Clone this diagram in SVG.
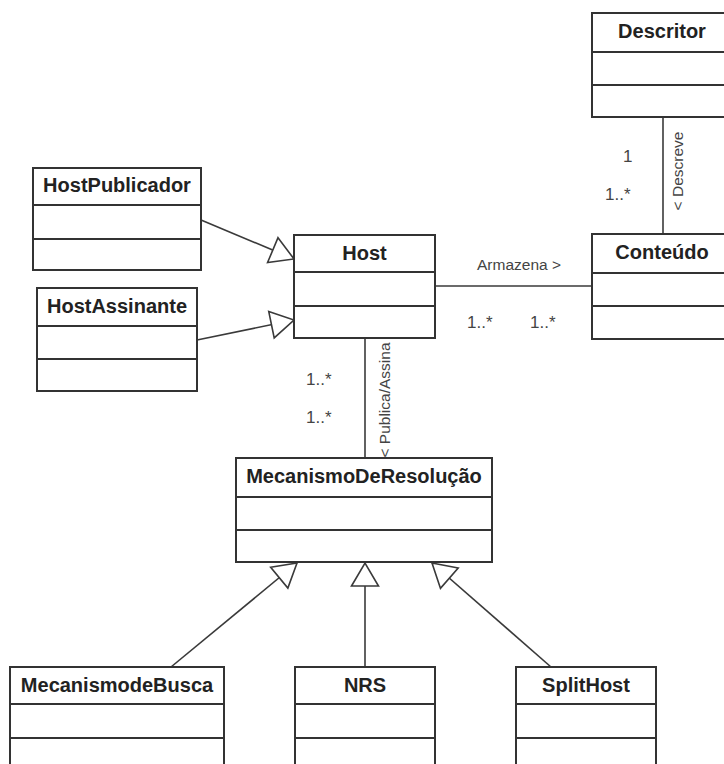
<svg xmlns="http://www.w3.org/2000/svg" width="724" height="764" viewBox="0 0 724 764">
  <style>
    .box { fill: #ffffff; stroke: #333333; stroke-width: 2; }
    .sep { stroke: #333333; stroke-width: 2; }
    .title { font-family: "Liberation Sans", Arial, sans-serif; font-weight: bold; font-size: 20px; fill: #222222; text-anchor: middle; }
    .conn { fill: none; stroke: #3a3a3a; stroke-width: 1.6; }
    .lbl { font-family: "Liberation Sans", Arial, sans-serif; font-size: 15.5px; fill: #444444; }
    .mult { font-family: "Liberation Sans", Arial, sans-serif; font-size: 17px; fill: #444444; }
  </style>
  <defs>
    <!-- hollow triangle for generalization -->
    <marker id="gen" markerUnits="userSpaceOnUse" markerWidth="26" markerHeight="30" refX="23" refY="13.5" orient="auto" overflow="visible">
      <path d="M0,0 L23,13.5 L0,27 Z" fill="#ffffff" stroke="#3a3a3a" stroke-width="1.6"/>
    </marker>
  </defs>
  <rect width="724" height="764" fill="#ffffff"/>

  <!-- connectors -->
  <g id="connectors">
    <line class="conn" x1="663" y1="117" x2="663" y2="234"/>
    <line class="conn" x1="435" y1="286" x2="592" y2="286"/>
    <line class="conn" x1="365" y1="338" x2="365" y2="458"/>
    <line class="conn" x1="201" y1="220" x2="294" y2="259" marker-end="url(#gen)"/>
    <line class="conn" x1="197" y1="340" x2="294" y2="320" marker-end="url(#gen)"/>
    <line class="conn" x1="171" y1="667" x2="297" y2="563" marker-end="url(#gen)"/>
    <line class="conn" x1="365" y1="667" x2="365" y2="563" marker-end="url(#gen)"/>
    <line class="conn" x1="551" y1="667" x2="432" y2="563" marker-end="url(#gen)"/>

    <text class="lbl" x="477" y="270">Armazena &gt;</text>
    <text class="mult" x="467" y="328">1..*</text>
    <text class="mult" x="530" y="328">1..*</text>
    <text class="mult" x="623" y="162">1</text>
    <text class="mult" x="605" y="200">1..*</text>
    <text class="mult" x="306" y="385">1..*</text>
    <text class="mult" x="306" y="423">1..*</text>
    <text class="lbl" text-anchor="middle" transform="translate(683,171) rotate(-90)">&lt; Descreve</text>
    <text class="lbl" text-anchor="middle" transform="translate(390,400) rotate(-90)">&lt; Publica/Assina</text>
  </g>

  <g id="descritor">
    <rect class="box" x="592" y="13" width="140" height="104"/>
    <line class="sep" x1="592" y1="52" x2="732" y2="52"/>
    <line class="sep" x1="592" y1="85" x2="732" y2="85"/>
    <text class="title" x="662" y="38">Descritor</text>
  </g>

  <g id="conteudo">
    <rect class="box" x="592" y="234" width="140" height="105"/>
    <line class="sep" x1="592" y1="273" x2="732" y2="273"/>
    <line class="sep" x1="592" y1="306" x2="732" y2="306"/>
    <text class="title" x="662" y="259">Conteúdo</text>
  </g>

  <g id="host">
    <rect class="box" x="294" y="235" width="141" height="103"/>
    <line class="sep" x1="294" y1="272" x2="435" y2="272"/>
    <line class="sep" x1="294" y1="306" x2="435" y2="306"/>
    <text class="title" x="364.5" y="260">Host</text>
  </g>

  <g id="hostPublicador">
    <rect class="box" x="33" y="168" width="168" height="102"/>
    <line class="sep" x1="33" y1="205" x2="201" y2="205"/>
    <line class="sep" x1="33" y1="239" x2="201" y2="239"/>
    <text class="title" x="117" y="192">HostPublicador</text>
  </g>

  <g id="hostAssinante">
    <rect class="box" x="37" y="288" width="160" height="103"/>
    <line class="sep" x1="37" y1="326" x2="197" y2="326"/>
    <line class="sep" x1="37" y1="359" x2="197" y2="359"/>
    <text class="title" x="117" y="313">HostAssinante</text>
  </g>

  <g id="mecanismoDeResolucao">
    <rect class="box" x="236" y="458" width="256" height="104"/>
    <line class="sep" x1="236" y1="497" x2="492" y2="497"/>
    <line class="sep" x1="236" y1="530" x2="492" y2="530"/>
    <text class="title" x="364" y="483">MecanismoDeResolução</text>
  </g>

  <g id="mecanismodeBusca">
    <rect class="box" x="10" y="667" width="214" height="120"/>
    <line class="sep" x1="10" y1="704" x2="224" y2="704"/>
    <line class="sep" x1="10" y1="738" x2="224" y2="738"/>
    <text class="title" x="117" y="692">MecanismodeBusca</text>
  </g>

  <g id="nrs">
    <rect class="box" x="295" y="667" width="140" height="120"/>
    <line class="sep" x1="295" y1="704" x2="435" y2="704"/>
    <line class="sep" x1="295" y1="738" x2="435" y2="738"/>
    <text class="title" x="365" y="692">NRS</text>
  </g>

  <g id="splitHost">
    <rect class="box" x="516" y="667" width="140" height="120"/>
    <line class="sep" x1="516" y1="704" x2="656" y2="704"/>
    <line class="sep" x1="516" y1="738" x2="656" y2="738"/>
    <text class="title" x="586" y="692">SplitHost</text>
  </g>
</svg>
